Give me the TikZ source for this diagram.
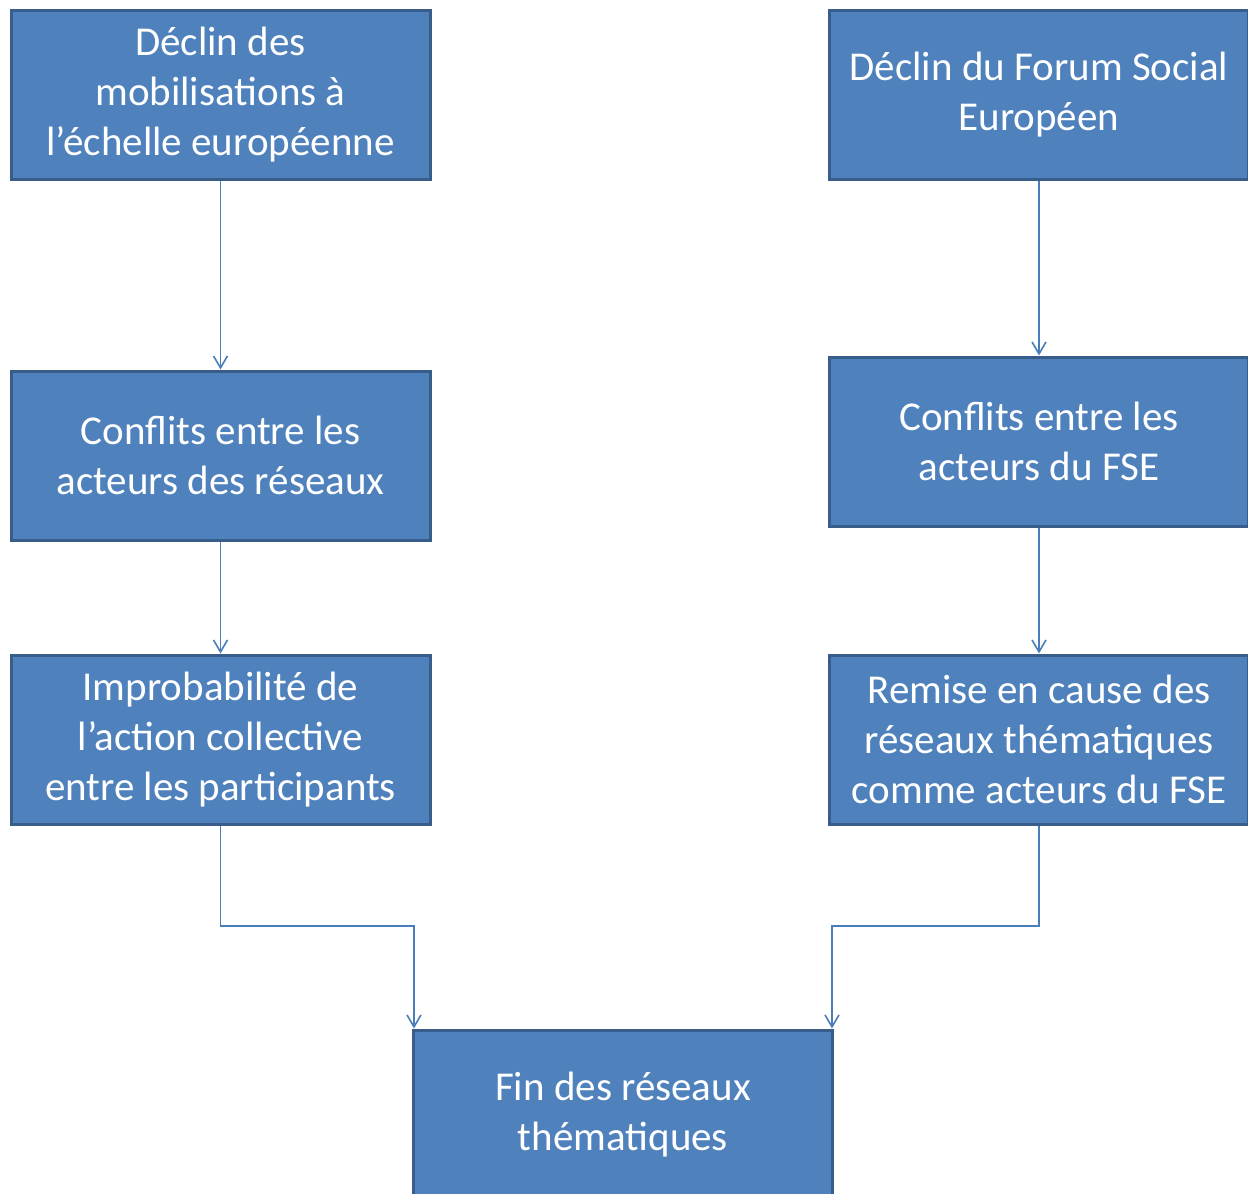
\documentclass[tikz,border=0pt]{standalone}
\usepackage{fontspec}
\setmainfont{Carlito}
\usetikzlibrary{arrows.meta}
\definecolor{boxfill}{HTML}{4F81BD}
\definecolor{boxline}{HTML}{385D8A}
\definecolor{arrowcol}{HTML}{4A7EBB}
\begin{document}
\begin{tikzpicture}[x=0.5pt,y=-0.5pt,
  flowbox/.style={draw=boxline, line width=1.5pt, fill=boxfill, text=white,
    minimum width=209.5pt, minimum height=84.5pt, inner sep=0pt, align=center,
    font=\fontsize{20.5}{25}\selectfont},
  flowarrow/.style={draw=arrowcol, line width=0.8pt, -{Straight Barb[length=6pt,width=7pt,line width=0.8pt]}}]
\useasboundingbox (0,0) rectangle (1248,1194);
\node[flowbox] (a) at (220.5,94.5) {Déclin des\\mobilisations à\\l’échelle européenne};
\node[flowbox] (b) at (1039,94.5) {Déclin du Forum Social\\Européen};
\node[flowbox] (c) at (220.5,455.5) {Conflits entre les\\acteurs des réseaux};
\node[flowbox] (d) at (1039,441.5) {Conflits entre les\\acteurs du FSE};
\node[flowbox] (e) at (220.5,739.5) {Improbabilité de\\l’action collective\\entre les participants};
\node[flowbox] (f) at (1039,739.5) {Remise en cause des\\réseaux thématiques\\comme acteurs du FSE};
\node[flowbox] (g) at (623,1114.5) {Fin des réseaux\\thématiques};
\coordinate (ge) at (414,926);
\coordinate (gf) at (832,926);
\draw[flowarrow] (a.south) -- (c.north);
\draw[flowarrow] (b.south) -- (d.north);
\draw[flowarrow] (c.south) -- (e.north);
\draw[flowarrow] (d.south) -- (f.north);
\draw[flowarrow] (e.south) |- (ge) -- (ge |- g.north);
\draw[flowarrow] (f.south) |- (gf) -- (gf |- g.north);
\end{tikzpicture}
\end{document}
